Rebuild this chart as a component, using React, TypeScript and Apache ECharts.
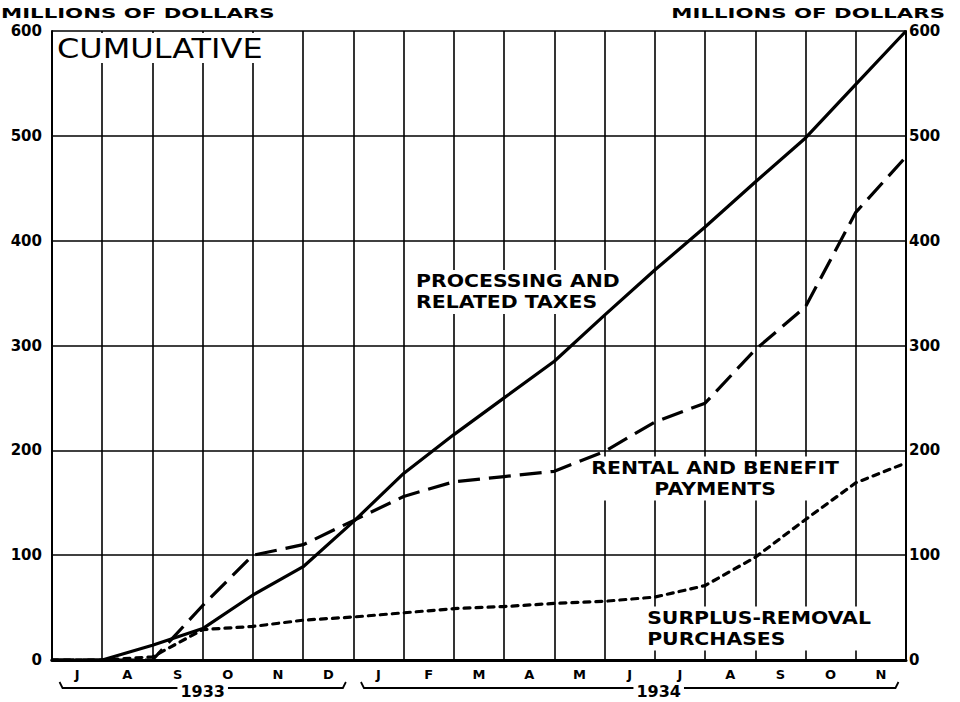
import React, { useEffect, useRef } from "react";
import * as echarts from "echarts";

const months = ["J", "A", "S", "O", "N", "D", "J", "F", "M", "A", "M", "J", "J", "A", "S", "O", "N"];
const years = [
  { label: "1933", from: 0, to: 6 },
  { label: "1934", from: 6, to: 17 },
];
const yTicks = [0, 100, 200, 300, 400, 500, 600];
// cumulative values at month boundaries (start of Jul 1933 ... end of Nov 1934)
const processingTaxes = [0, 0, 14, 30, 62, 89, 132, 178, 215, 250, 285, 329, 372, 413, 456, 498, 549, 600];
const rentalPayments = [0, 0, 0, 52, 100, 110, 133, 156, 170, 175, 180, 199, 227, 245, 296, 337, 427, 480];
const surplusPurchases = [0, 0, 3, 29, 32, 38, 41, 45, 49, 51, 54, 56, 60, 71, 98, 134, 169, 188];

const FONT = "DejaVu Sans";

const toPairs = (arr: number[]) => arr.map((v, i) => [i, v]);

export default function App() {
  const ref = useRef<HTMLDivElement>(null);
  useEffect(() => {
    if (!ref.current) return;
    const chart = echarts.init(ref.current, null, { renderer: "svg" });
    const axisLabelStyle = { color: "#000", fontFamily: FONT, fontWeight: "bold" as const, fontSize: 15 };
    chart.setOption({
      animation: false,
      backgroundColor: "#fff",
      grid: { left: 52, right: 54, top: 31, bottom: 42, containLabel: false },
      xAxis: [
        {
          type: "value",
          min: 0,
          max: 17,
          interval: 1,
          position: "bottom",
          axisLine: { show: true, lineStyle: { color: "#000", width: 3 } },
          axisTick: { show: false },
          axisLabel: { show: false },
          splitLine: { show: true, lineStyle: { color: "#000", width: 1.6 } },
        },
        {
          type: "category",
          data: months,
          boundaryGap: true,
          position: "bottom",
          axisLine: { show: false },
          axisTick: { show: false },
          splitLine: { show: false },
          axisLabel: { ...axisLabelStyle, fontSize: 13, margin: 8, interval: 0 },
        },
      ],
      yAxis: [
        {
          type: "value",
          min: 0,
          max: 600,
          interval: 100,
          position: "left",
          axisLine: { show: true, lineStyle: { color: "#000", width: 2 } },
          axisTick: { show: false },
          axisLabel: { ...axisLabelStyle, margin: 10, formatter: (v: number) => (yTicks.includes(v) ? String(v) : "") },
          splitLine: { show: true, lineStyle: { color: "#000", width: 1.6 } },
        },
        {
          type: "value",
          min: 0,
          max: 600,
          interval: 100,
          position: "right",
          axisLine: { show: true, lineStyle: { color: "#000", width: 2 } },
          axisTick: { show: false },
          axisLabel: { ...axisLabelStyle, margin: 3, formatter: (v: number) => (yTicks.includes(v) ? String(v) : "") },
          splitLine: { show: false },
        },
      ],
      series: [
        {
          name: "Processing and related taxes",
          type: "line",
          xAxisIndex: 0,
          yAxisIndex: 0,
          data: toPairs(processingTaxes),
          showSymbol: false,
          lineStyle: { color: "#000", width: 3.2 },
          z: 20,
        },
        {
          name: "Rental and benefit payments",
          type: "line",
          xAxisIndex: 0,
          yAxisIndex: 0,
          data: toPairs(rentalPayments),
          showSymbol: false,
          lineStyle: { color: "#000", width: 3.2, type: [22, 9] },
          z: 20,
        },
        {
          name: "Surplus-removal purchases",
          type: "line",
          xAxisIndex: 0,
          yAxisIndex: 0,
          data: toPairs(surplusPurchases),
          showSymbol: false,
          lineStyle: { color: "#000", width: 3.2, type: [6, 6], cap: "round" },
          z: 20,
        },
      ],
    });

    const px = (x: number, y: number) => chart.convertToPixel({ xAxisIndex: 0, yAxisIndex: 0 }, [x, y]) as number[];
    const [gx0, gy0] = px(0, 600);
    const [, gyBottom] = px(17, 0);

    const textStyle = (size: number, extra: any = {}) => ({
      fill: "#000",
      fontFamily: FONT,
      fontWeight: "bold",
      fontSize: size,
      ...extra,
    });

    const graphics: any[] = [
      {
        type: "text",
        x: 1,
        y: 6,
        scaleX: 1.52,
        style: textStyle(14, { text: "MILLIONS OF DOLLARS" }),
      },
      {
        type: "text",
        x: 945,
        y: 6,
        scaleX: 1.52,
        style: textStyle(14, { text: "MILLIONS OF DOLLARS", align: "right" }),
      },
      {
        type: "rect",
        shape: { x: gx0 + 2, y: gy0 + 2, width: 212, height: 30 },
        style: { fill: "#fff" },
        z: 10,
      },
      {
        type: "text",
        x: gx0 + 5,
        y: gy0 + 5,
        scaleX: 1.23,
        style: textStyle(26, { text: "CUMULATIVE", fontWeight: "normal" }),
        z: 11,
      },
    ];

    // series annotations, anchored in data coordinates
    const annotations = [
      { text: "PROCESSING AND\nRELATED TAXES", at: [7.2, 372], align: "left" },
      { text: "RENTAL AND BENEFIT\nPAYMENTS", at: [13.2, 194], align: "center" },
      { text: "SURPLUS-REMOVAL\nPURCHASES", at: [11.8, 51], align: "left" },
    ];
    annotations.forEach((a) => {
      const [ax, ay] = px(a.at[0], a.at[1]);
      graphics.push({
        type: "text",
        x: ax,
        y: ay,
        z: 12,
        scaleX: 1.2,
        style: textStyle(17, {
          text: a.text,
          align: a.align,
          lineHeight: 21,
          backgroundColor: "#fff",
          padding: [1, 2],
        }),
      });
    });

    // year braces
    years.forEach((yr, i) => {
      const [xa] = px(yr.from + 0.15, 0);
      const [xb] = px(yr.to - 0.15, 0);
      const yb = gyBottom + 28;
      graphics.push({
        type: "polyline",
        shape: { points: [[xa, yb - 6], [xa + 3, yb], [xb - 3, yb], [xb, yb - 6]] },
        style: { stroke: "#000", lineWidth: 1.8, fill: null },
      });
      const xm = (xa + xb) / 2 + (i === 0 ? 0 : 29);
      graphics.push({
        type: "text",
        x: xm,
        y: yb + 3,
        style: textStyle(16, {
          text: yr.label,
          align: "center",
          verticalAlign: "middle",
          backgroundColor: "#fff",
          padding: [0, 3],
        }),
      });
    });

    chart.setOption({ graphic: graphics });
    return () => chart.dispose();
  }, []);
  return <div ref={ref} style={{ width: 960, height: 702, position: "fixed", left: 0, top: 0 }} />;
}
